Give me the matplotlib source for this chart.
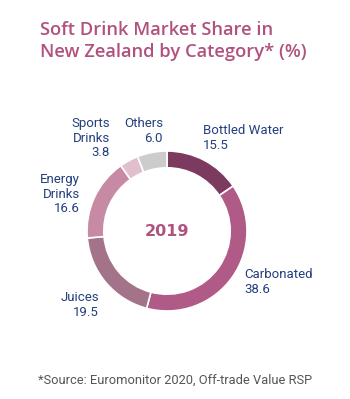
import matplotlib
matplotlib.use('Agg')
import matplotlib.pyplot as plt

categories = ['Bottled Water', 'Carbonated', 'Juices', 'Energy\nDrinks', 'Sports\nDrinks', 'Others']
shares = [15.5, 38.6, 19.5, 16.6, 3.8, 6.0]
colors = ['#7b3a5e', '#b05a88', '#a37489', '#c68aa5', '#e2bfcd', '#cccccc']

W, H = 350, 399
fig = plt.figure(figsize=(W / 100, H / 100), dpi=100)

def px(x, y):
    return x / W, 1 - y / H

# donut centred near (167, 231) px, outer radius 80 px
cx, cy, r = 167, 231, 80
ax = fig.add_axes([(cx - r) / W, 1 - (cy + r) / H, 2 * r / W, 2 * r / H])
ax.pie(shares, colors=colors, startangle=90, counterclock=False,
       wedgeprops=dict(width=0.21, edgecolor='white', linewidth=1.2))
ax.set_xlim(-1, 1)
ax.set_ylim(-1, 1)
ax.set_aspect('equal')
ax.text(0, 0, '2019', ha='center', va='center', fontsize=11.5,
        fontweight='bold', color='#b0527f', family='DejaVu Sans')

title_color = '#b0527f'
fig.text(*px(40, 30), 'Soft Drink Market Share in', fontsize=13.2, fontweight='semibold',
         color=title_color, va='center', ha='left', family='Open Sans')
fig.text(*px(40, 52), 'New Zealand by Category* (%)', fontsize=13.2, fontweight='semibold',
         color=title_color, va='center', ha='left', family='Open Sans')

label_color = '#233f7e'
lbl = dict(fontsize=9.5, color=label_color, family='Roboto', linespacing=1.15)

# label text + value, positions in px (anchor, alignment)
placements = [
    (203, 138, 'left'),   # Bottled Water
    (244, 282, 'left'),   # Carbonated
    (99, 305, 'right'),   # Juices
    (80, 194, 'right'),   # Energy Drinks
    (110, 138, 'right'),  # Sports Drinks
    (163, 131, 'right'),  # Others
]
for name, val, (x, y, ha) in zip(categories, shares, placements):
    fig.text(*px(x, y), f'{name}\n{val:.1f}', ha=ha, va='center', multialignment=ha, **lbl)

fig.text(*px(175, 380), '*Source: Euromonitor 2020, Off-trade Value RSP', ha='center', va='center',
         fontsize=9.3, color='#555555', family='Roboto')

fig.savefig('out.png', dpi=100)
